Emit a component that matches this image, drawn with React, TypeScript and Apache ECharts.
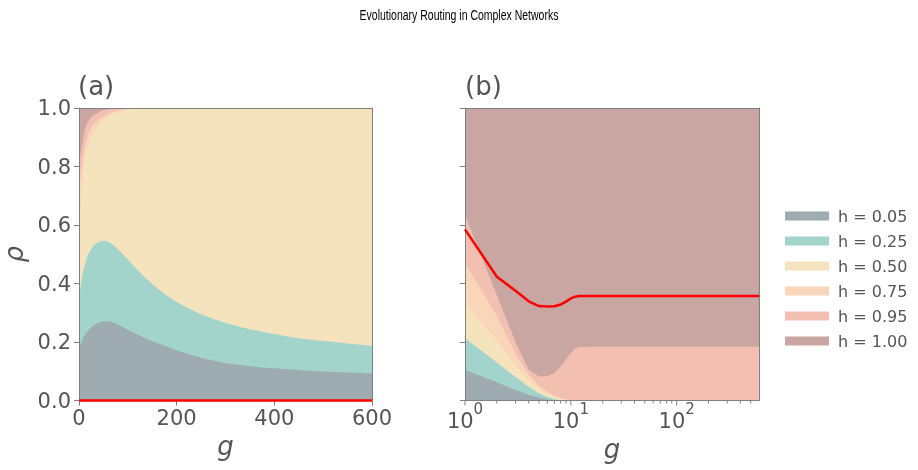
import React, { useEffect, useRef } from 'react';
import * as echarts from 'echarts';

// Routing strategies (one stacked band each)
const strategyNames = ['h = 0.05', 'h = 0.25', 'h = 0.50', 'h = 0.75', 'h = 0.95', 'h = 1.00'];
const strategyColors = ['#9eabb1', '#a2d4cc', '#f5e3bd', '#f9d5b9', '#f3bfb1', '#c9a6a1'];

// Panel (a): generations on a linear axis
const gA = [0, 3, 6, 10, 15, 20, 25, 30, 40, 50, 60, 70, 80, 100, 120, 150, 175, 200, 250, 300, 350, 400, 450, 500, 550, 600];
const shareA005 = [0.172, 0.19, 0.205, 0.22, 0.232, 0.242, 0.25, 0.257, 0.266, 0.271, 0.271, 0.267, 0.26, 0.242, 0.225, 0.203, 0.187, 0.172, 0.146, 0.128, 0.117, 0.11, 0.104, 0.099, 0.096, 0.093];
const shareA025 = [0.177, 0.195, 0.215, 0.231, 0.248, 0.261, 0.268, 0.273, 0.276, 0.275, 0.271, 0.265, 0.257, 0.24, 0.22, 0.195, 0.178, 0.165, 0.149, 0.138, 0.127, 0.117, 0.109, 0.104, 0.099, 0.094];
const shareA050 = [0.211, 0.285, 0.315, 0.349, 0.37, 0.377, 0.382, 0.385, 0.401, 0.414, 0.43, 0.448, 0.469, 0.512, 0.553, 0.602, 0.635, 0.663, 0.705, 0.734, 0.756, 0.773, 0.787, 0.797, 0.805, 0.813];
const shareA075 = [0.14, 0.1, 0.075, 0.05, 0.04, 0.035, 0.032, 0.03, 0.017, 0.012, 0.008, 0.007, 0.006, 0.004, 0.002, 0, 0, 0, 0, 0, 0, 0, 0, 0, 0, 0];
const shareA095 = [0.1, 0.07, 0.06, 0.06, 0.05, 0.043, 0.036, 0.03, 0.025, 0.02, 0.016, 0.012, 0.008, 0.002, 0, 0, 0, 0, 0, 0, 0, 0, 0, 0, 0, 0];
const shareA100 = [0.2, 0.16, 0.13, 0.09, 0.06, 0.042, 0.032, 0.025, 0.015, 0.008, 0.004, 0.001, 0, 0, 0, 0, 0, 0, 0, 0, 0, 0, 0, 0, 0, 0];
const lineA = [0, 0, 0, 0, 0, 0, 0, 0, 0, 0, 0, 0, 0, 0, 0, 0, 0, 0, 0, 0, 0, 0, 0, 0, 0, 0];

// Panel (b): generations on a log axis
const gB = [1, 2, 3, 4, 5, 6, 7, 8, 9, 10, 11, 12, 15, 20, 30, 50, 100, 200, 400, 600];
const shareB005 = [0.104, 0.062, 0.036, 0.02, 0.01, 0.004, 0.001, 0, 0, 0, 0, 0, 0, 0, 0, 0, 0, 0, 0, 0];
const shareB025 = [0.109, 0.068, 0.044, 0.027, 0.015, 0.008, 0.004, 0.001, 0, 0, 0, 0, 0, 0, 0, 0, 0, 0, 0, 0];
const shareB050 = [0.119, 0.075, 0.04, 0.023, 0.015, 0.01, 0.006, 0.003, 0.001, 0, 0, 0, 0, 0, 0, 0, 0, 0, 0, 0];
const shareB075 = [0.138, 0.085, 0.04, 0.02, 0.01, 0.008, 0.007, 0.005, 0.003, 0.001, 0, 0, 0, 0, 0, 0, 0, 0, 0, 0];
const shareB095 = [0.164, 0.07, 0.04, 0.015, 0.032, 0.053, 0.077, 0.106, 0.136, 0.162, 0.177, 0.183, 0.184, 0.184, 0.184, 0.184, 0.184, 0.184, 0.184, 0.184];
const shareB100 = [0.366, 0.64, 0.8, 0.895, 0.918, 0.917, 0.905, 0.885, 0.86, 0.837, 0.823, 0.817, 0.816, 0.816, 0.816, 0.816, 0.816, 0.816, 0.816, 0.816];
const lineB = [0.585, 0.423, 0.375, 0.339, 0.323, 0.321, 0.322, 0.328, 0.338, 0.349, 0.355, 0.357, 0.357, 0.357, 0.357, 0.357, 0.357, 0.357, 0.357, 0.357];

// Ticks of the log axis (decades and the 2..9 multiples between them)
const majorTicksB = [1, 10, 100];
const minorTicksB = [2, 3, 4, 5, 6, 7, 8, 9, 20, 30, 40, 50, 60, 70, 80, 90, 200, 300, 400, 500];

const TEXT = '#555555';
const SPINE = '#808080';
const FONT = 'DejaVu Sans';

function cumulative(shares: number[][]): number[][] {
  const out: number[][] = [];
  shares.forEach((s, i) => {
    out.push(s.map((v, j) => (i === 0 ? v : out[i - 1][j] + v)));
  });
  return out;
}

function bandSeries(xs: number[], shares: number[][], axis: number, smooth: number | boolean) {
  const tops = cumulative(shares);
  return strategyNames.map((name, i) => ({
    name,
    type: 'line',
    xAxisIndex: axis,
    yAxisIndex: axis,
    data: xs.map((x, j) => [x, Math.min(1, tops[i][j])]),
    smooth,
    symbol: 'none',
    color: strategyColors[i],
    lineStyle: { width: 0, opacity: 0 },
    areaStyle: { color: strategyColors[i], opacity: 1, origin: 'start' },
    z: 2 + (strategyNames.length - i),
    silent: true,
  }));
}

function tickSeries(values: number[], length: number) {
  return {
    type: 'custom',
    xAxisIndex: 1,
    yAxisIndex: 1,
    silent: true,
    clip: false,
    z: 12,
    data: values.map((v) => [v, 0]),
    renderItem: (_params: any, api: any) => {
      const p = api.coord([api.value(0), 0]);
      return {
        type: 'line',
        shape: { x1: p[0], y1: p[1], x2: p[0], y2: p[1] + length },
        style: { stroke: SPINE, lineWidth: 1 },
      };
    },
  };
}

export default function App() {
  const ref = useRef<HTMLDivElement>(null);

  useEffect(() => {
    if (!ref.current) return;
    const chart = echarts.init(ref.current, undefined, { renderer: 'svg' });

    const gridTop = 108;
    const gridH = 292.5;
    const gridW = 294;

    const spineAxis = (gridIndex: number, position: string, extra: any) => ({
      gridIndex,
      position,
      z: 10,
      axisLine: { show: true, onZero: false, lineStyle: { color: SPINE, width: 1 } },
      axisTick: { show: false },
      axisLabel: { show: false },
      splitLine: { show: false },
      ...extra,
    });

    const yAxisBase = (gridIndex: number, showLabels: boolean) => ({
      type: 'value',
      gridIndex,
      min: 0,
      max: 1,
      interval: 0.2,
      z: 10,
      axisLine: { show: true, lineStyle: { color: SPINE, width: 1 } },
      axisTick: { show: true, length: 5, lineStyle: { color: SPINE } },
      axisLabel: {
        show: showLabels,
        fontSize: 21,
        color: TEXT,
        margin: 8,
        fontFamily: FONT,
        formatter: (v: number) => v.toFixed(1),
      },
      splitLine: { show: false },
      ...(showLabels
        ? {
            name: 'ρ',
            nameLocation: 'middle',
            nameGap: 52,
            nameRotate: 90,
            nameTextStyle: { fontSize: 26, fontStyle: 'italic', color: TEXT, fontFamily: FONT },
          }
        : {}),
    });

    const option: any = {
      animation: false,
      textStyle: { fontFamily: FONT },
      graphic: [
        {
          type: 'text',
          x: 459,
          y: 15,
          scaleX: 0.75,
          style: {
            text: 'Evolutionary Routing in Complex Networks',
            x: 0,
            y: 0,
            align: 'center',
            verticalAlign: 'middle',
            fontSize: 14,
            fill: '#000000',
            fontFamily: 'Liberation Sans',
          },
        },
        { type: 'text', left: 78, top: 73, style: { text: '(a)', fontSize: 26, fill: TEXT, fontFamily: FONT } },
        { type: 'text', left: 465, top: 73, style: { text: '(b)', fontSize: 26, fill: TEXT, fontFamily: FONT } },
      ],
      legend: {
        orient: 'vertical',
        left: 785,
        top: 208,
        padding: 0,
        itemWidth: 44,
        itemHeight: 9,
        itemGap: 9,
        selectedMode: false,
        textStyle: { fontSize: 16, color: TEXT, lineHeight: 16, padding: [0, 0, 0, 4], fontFamily: FONT },
        data: strategyNames.map((name, i) => ({ name, icon: 'rect', itemStyle: { color: strategyColors[i] } })),
      },
      grid: [
        { left: 78, top: gridTop, width: gridW, height: gridH },
        { left: 465, top: gridTop, width: gridW, height: gridH },
      ],
      xAxis: [
        {
          type: 'value',
          gridIndex: 0,
          min: 0,
          max: 600,
          interval: 200,
          z: 10,
          axisLine: { show: true, onZero: false, lineStyle: { color: SPINE, width: 1 } },
          axisTick: { show: true, length: 5, lineStyle: { color: SPINE } },
          axisLabel: { fontSize: 21, color: TEXT, margin: 7, fontFamily: FONT },
          splitLine: { show: false },
          name: 'g',
          nameLocation: 'middle',
          nameGap: 32,
          nameTextStyle: { fontSize: 26, fontStyle: 'italic', color: TEXT, fontFamily: FONT },
        },
        {
          type: 'log',
          logBase: 10,
          gridIndex: 1,
          min: 1,
          max: 600,
          z: 10,
          axisLine: { show: true, onZero: false, lineStyle: { color: SPINE, width: 1 } },
          axisTick: { show: false },
          axisLabel: {
            margin: 1,
            fontFamily: FONT,
            formatter: (v: number) => {
              const e = Math.log10(v);
              if (Math.abs(e - Math.round(e)) > 1e-6) return '';
              return `{b|10}{s|${Math.round(e)}}`;
            },
            rich: {
              b: { fontSize: 21, color: TEXT, fontFamily: FONT, lineHeight: 30, verticalAlign: 'bottom' },
              s: { fontSize: 15, color: TEXT, fontFamily: FONT, lineHeight: 30, verticalAlign: 'top' },
            },
          },
          splitLine: { show: false },
          name: 'g',
          nameLocation: 'middle',
          nameGap: 32,
          nameTextStyle: { fontSize: 26, fontStyle: 'italic', color: TEXT, fontFamily: FONT },
        },
        spineAxis(0, 'top', { type: 'value', min: 0, max: 600 }),
        spineAxis(1, 'top', { type: 'log', logBase: 10, min: 1, max: 600 }),
      ],
      yAxis: [
        yAxisBase(0, true),
        yAxisBase(1, false),
        spineAxis(0, 'right', { type: 'value', min: 0, max: 1 }),
        spineAxis(1, 'right', { type: 'value', min: 0, max: 1 }),
      ],
      series: [
        ...bandSeries(gA, [shareA005, shareA025, shareA050, shareA075, shareA095, shareA100], 0, 0.3),
        ...bandSeries(gB, [shareB005, shareB025, shareB050, shareB075, shareB095, shareB100], 1, false),
        {
          name: 'mean-a',
          type: 'line',
          xAxisIndex: 0,
          yAxisIndex: 0,
          data: gA.map((g, j) => [g, lineA[j]]),
          symbol: 'none',
          color: '#ff0000',
          lineStyle: { color: '#ff0000', width: 2.5 },
          z: 12,
          silent: true,
          clip: false,
        },
        {
          name: 'mean-b',
          type: 'line',
          xAxisIndex: 1,
          yAxisIndex: 1,
          data: gB.map((g, j) => [g, lineB[j]]),
          symbol: 'none',
          color: '#ff0000',
          lineStyle: { color: '#ff0000', width: 2.5 },
          z: 12,
          silent: true,
        },
        tickSeries(majorTicksB, 5),
        tickSeries(minorTicksB, 3),
      ],
    };

    chart.setOption(option);
    return () => chart.dispose();
  }, []);

  return <div ref={ref} style={{ position: 'fixed', left: 0, top: 0, width: 918, height: 470 }} />;
}
